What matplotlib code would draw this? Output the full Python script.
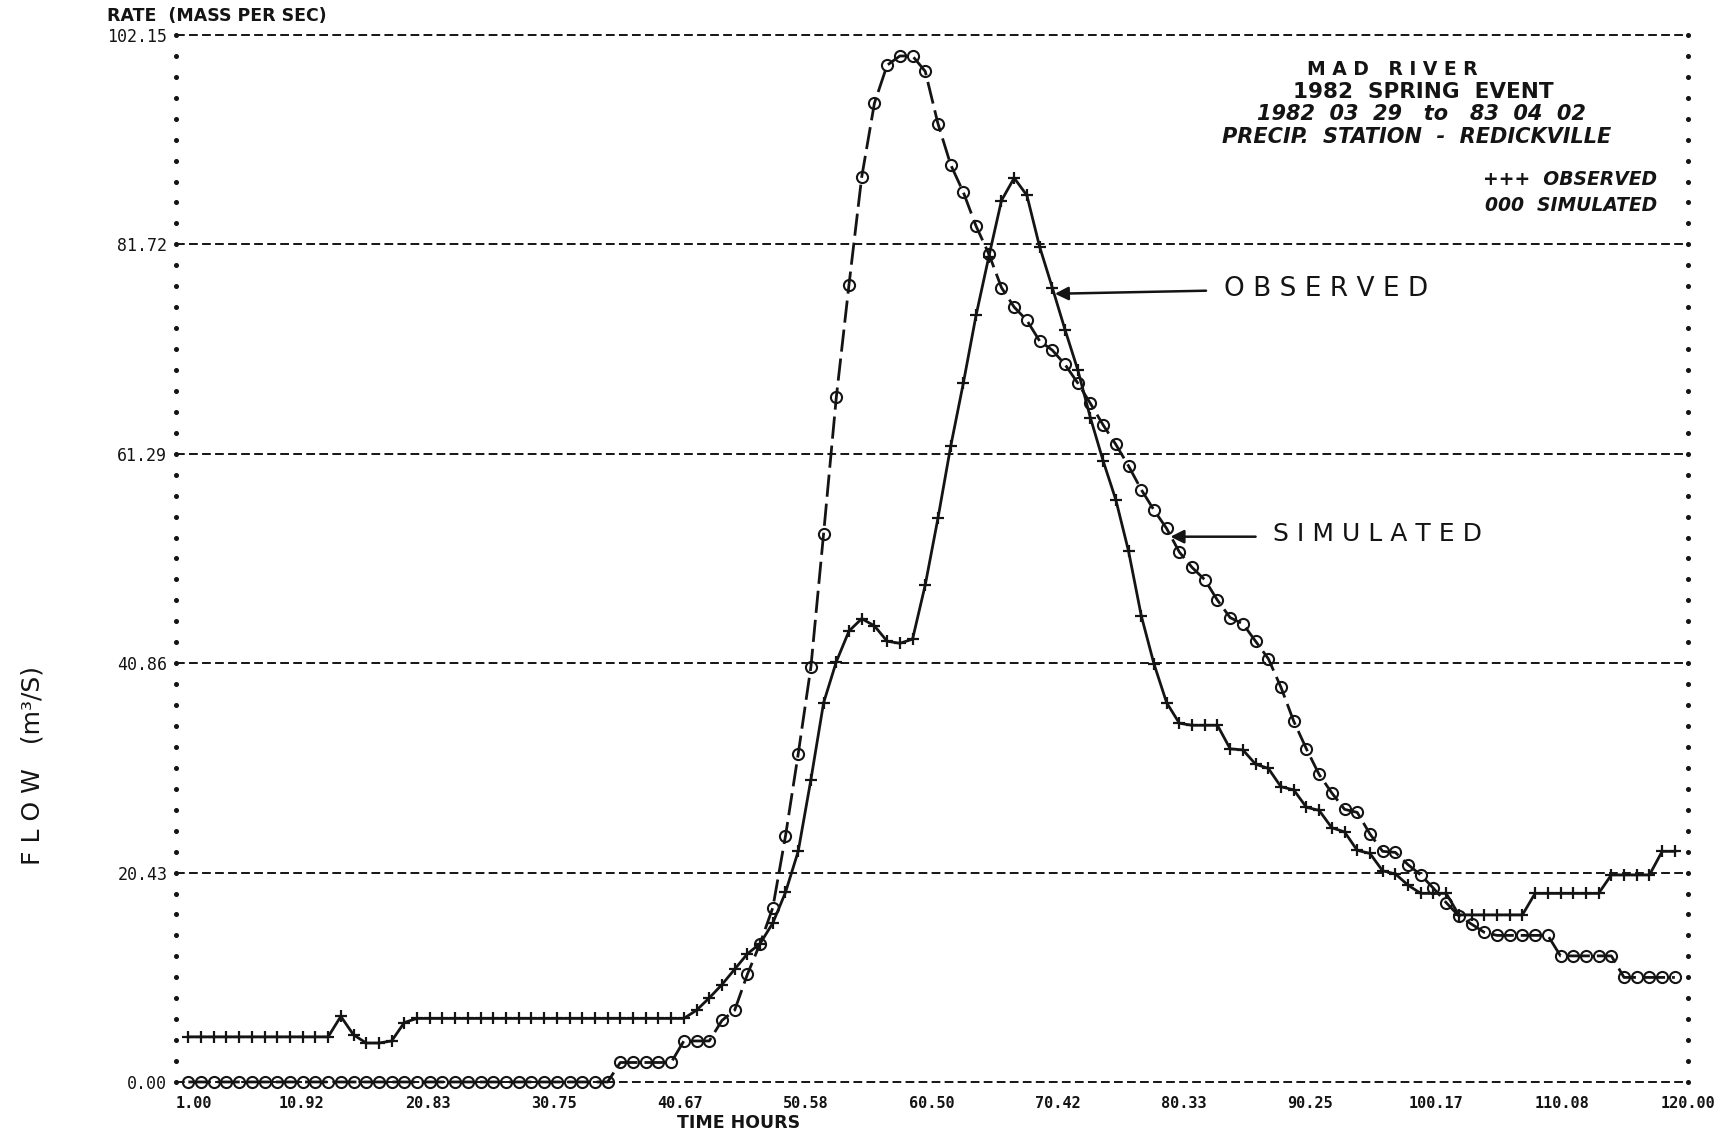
import numpy as np
import matplotlib.pyplot as plt

# Mad River 1982 spring event: observed vs simulated flow, hourly values
hours = np.arange(2, 120)

observed = [
    4.4, 4.4, 4.4, 4.4, 4.4, 4.4, 4.4, 4.4, 4.4,            # 2-10
    4.4, 4.4, 4.4, 6.4, 4.6, 3.8, 3.8, 4.0, 5.8, 6.2,       # 11-20
    6.2, 6.2, 6.2, 6.2, 6.2, 6.2, 6.2, 6.2, 6.2, 6.2,       # 21-30
    6.2, 6.2, 6.2, 6.2, 6.2, 6.2, 6.2, 6.2, 6.2, 6.2,       # 31-40
    6.2, 7.0, 8.2, 9.5, 11.0, 12.5, 13.5, 15.5, 18.5, 22.5,  # 41-50
    29.5, 37.0, 41.0, 44.0, 45.2, 44.5, 43.0, 42.8, 43.2, 48.5,  # 51-60
    55.0, 62.0, 68.2, 74.8, 80.5, 86.0, 88.2, 86.5, 81.5, 77.5,  # 61-70
    73.4, 69.5, 64.8, 60.6, 56.8, 51.8, 45.5, 40.8, 37.0, 35.0,  # 71-80
    34.8, 34.8, 34.8, 32.5, 32.4, 31.0, 30.6, 28.8, 28.5, 26.8,  # 81-90
    26.5, 24.8, 24.4, 22.6, 22.3, 20.6, 20.3, 19.2, 18.4, 18.4,  # 91-100
    18.4, 16.3, 16.3, 16.3, 16.3, 16.3, 16.3, 18.4, 18.4, 18.4,  # 101-110
    18.4, 18.4, 18.4, 20.2, 20.2, 20.2, 20.2, 22.5, 22.5,        # 111-119
]

simulated = [
    0.0, 0.0, 0.0, 0.0, 0.0, 0.0, 0.0, 0.0, 0.0,            # 2-10
    0.0, 0.0, 0.0, 0.0, 0.0, 0.0, 0.0, 0.0, 0.0, 0.0,       # 11-20
    0.0, 0.0, 0.0, 0.0, 0.0, 0.0, 0.0, 0.0, 0.0, 0.0,       # 21-30
    0.0, 0.0, 0.0, 0.0, 0.0, 1.9, 1.9, 1.9, 1.9, 1.9,       # 31-40
    4.0, 4.0, 4.0, 6.0, 7.0, 10.5, 13.5, 17.0, 24.0, 32.0,  # 41-50
    40.5, 53.5, 66.8, 77.8, 88.3, 95.5, 99.2, 100.1, 100.1, 98.6,  # 51-60
    93.5, 89.5, 86.8, 83.5, 80.8, 77.5, 75.6, 74.3, 72.3, 71.4,    # 61-70
    70.0, 68.2, 66.2, 64.1, 62.2, 60.1, 57.8, 55.8, 54.0, 51.7,    # 71-80
    50.2, 49.0, 47.0, 45.3, 44.7, 43.0, 41.3, 38.5, 35.2, 32.5,    # 81-90
    30.0, 28.2, 26.6, 26.3, 24.2, 22.5, 22.4, 21.2, 20.2, 18.9,    # 91-100
    17.5, 16.2, 15.4, 14.6, 14.3, 14.3, 14.3, 14.3, 14.3, 12.3,    # 101-110
    12.3, 12.3, 12.3, 12.3, 10.2, 10.2, 10.2, 10.2, 10.2,          # 111-119
]

x_ticks = [1.00, 10.92, 20.83, 30.75, 40.67, 50.58, 60.50, 70.42, 80.33, 90.25, 100.17, 110.08, 120.00]
x_labels = ['1.00', '10.92', '20.83', '30.75', '40.67', '50.58', '60.50',
            '70.42', '80.33', '90.25', '100.17', '110.08', '120.00']
y_ticks = [0.00, 20.43, 40.86, 61.29, 81.72, 102.15]
y_labels = ['0.00', '20.43', '40.86', '61.29', '81.72', '102.15']

ink = '#141414'
mono = 'DejaVu Sans Mono'

fig = plt.figure(figsize=(17.22, 11.43), dpi=100)
ax = fig.add_axes([0.102, 0.0534, 0.878, 0.916])
ax.set_xlim(1, 120)
ax.set_ylim(0, 102.15)

for s in ax.spines.values():
    s.set_visible(False)

# dashed horizontal lines at each y tick
for yv in y_ticks:
    ax.axhline(yv, color=ink, lw=1.4, dashes=(4.5, 2.2), clip_on=False, zorder=1)

# dotted left / right frame
dots = np.linspace(0, y_ticks[-1], 51)
for xe in (1, 120):
    ax.plot(np.full_like(dots, xe), dots, ls='none', marker='o', ms=2.6,
            color=ink, clip_on=False, zorder=2)

ax.plot(hours, simulated, color=ink, lw=2.0, dashes=(8, 2.5), marker='o', ms=8,
        mfc='none', mew=1.5, clip_on=False, zorder=3)
ax.plot(hours, observed, color=ink, lw=2.0, marker='+', ms=9, mew=1.6,
        clip_on=False, zorder=4)

ax.set_xticks(x_ticks, x_labels)
ax.set_yticks(y_ticks, y_labels)
ax.tick_params(length=0, colors=ink)
ax.tick_params(axis='x', pad=10)
ax.tick_params(axis='y', pad=6)
for lab in ax.get_xticklabels():
    lab.set_fontfamily(mono)
    lab.set_fontweight('bold')
    lab.set_fontsize(11)
ax.get_xticklabels()[0].set_horizontalalignment('left')
for lab in ax.get_yticklabels():
    lab.set_fontfamily(mono)
    lab.set_fontsize(12)

fig.text(0.062, 0.9856, 'RATE  (MASS PER SEC)', fontsize=12.5, fontweight='bold',
         color=ink, va='center', ha='left')
fig.text(0.429, 0.0173, 'TIME HOURS', fontsize=12.5, fontweight='bold',
         color=ink, va='center', ha='center')
fig.text(0.019, 0.33, 'F L O W   (m³/S)', fontsize=18, rotation=90,
         color=ink, va='center', ha='center')

# title block
ax.text(0.805, 0.9675, 'M A D   R I V E R', transform=ax.transAxes, fontsize=13.5,
        fontweight='bold', color=ink, ha='center', va='center')
ax.text(0.825, 0.9454, '1982  SPRING  EVENT', transform=ax.transAxes, fontsize=15.5,
        fontweight='bold', color=ink, ha='center', va='center')
ax.text(0.824, 0.9244, '1982  03  29   to   83  04  02', transform=ax.transAxes,
        fontsize=15, fontweight='bold', style='italic', color=ink,
        ha='center', va='center')
ax.text(0.821, 0.9024, 'PRECIP.  STATION  -  REDICKVILLE', transform=ax.transAxes,
        fontsize=15, fontweight='bold', style='italic', color=ink,
        ha='center', va='center')
ax.text(0.980, 0.8615, '+++  OBSERVED', transform=ax.transAxes, fontsize=13.5,
        fontweight='bold', style='italic', color=ink, ha='right', va='center')
ax.text(0.980, 0.8375, '000  SIMULATED', transform=ax.transAxes, fontsize=13.5,
        fontweight='bold', style='italic', color=ink, ha='right', va='center')

# hand-drawn labels with arrows
arrow = dict(arrowstyle='-|>', lw=1.8, color=ink, mutation_scale=20, shrinkA=0, shrinkB=0)
ax.annotate('', xy=(70.2, 76.9), xytext=(82.1, 77.2), arrowprops=arrow)
ax.text(83.5, 77.4, 'O B S E R V E D', fontsize=19, color=ink, ha='left', va='center')
ax.annotate('', xy=(79.3, 53.2), xytext=(86.0, 53.2), arrowprops=arrow)
ax.text(87.4, 53.5, 'S I M U L A T E D', fontsize=18, color=ink, ha='left', va='center')

fig.savefig('out.png', dpi=100, facecolor='white')
